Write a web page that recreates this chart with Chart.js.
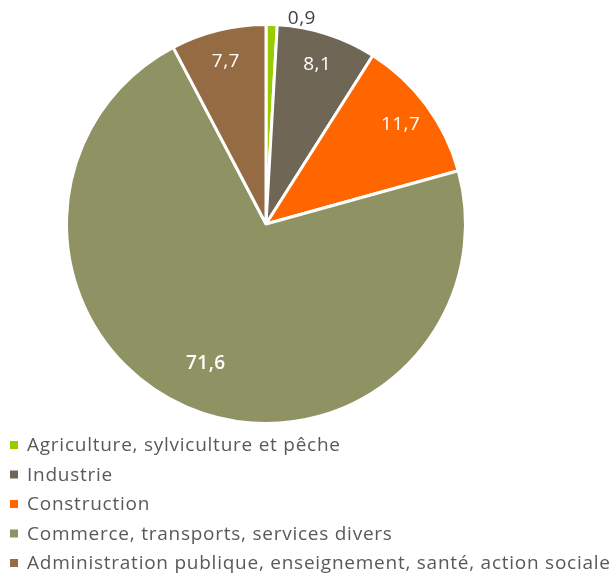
<!DOCTYPE html>
<html>
<head>
<meta charset="utf-8">
<script src="https://cdn.jsdelivr.net/npm/chart.js@4.4.1/dist/chart.umd.min.js"></script>
<style>
html,body{margin:0;padding:0;background:#fff;}
#wrap{width:612px;height:573px;position:relative;}
</style>
</head>
<body>
<div id="wrap"><canvas id="c" width="612" height="573"></canvas></div>
<script>
const categories = [
  "Agriculture, sylviculture et pêche",
  "Industrie",
  "Construction",
  "Commerce, transports, services divers",
  "Administration publique, enseignement, santé, action sociale"
];
const values = [0.9, 8.1, 11.7, 71.6, 7.7];
const colors = ["#99CC00", "#6F6656", "#FF6600", "#8F9263", "#956B43"];

const FONT = "'Open Sans', sans-serif";
const total = values.reduce((a,b)=>a+b,0);
const fmt = v => v.toFixed(1).replace('.', ',');

const sliceLabels = {
  id: 'sliceLabels',
  afterDatasetsDraw(chart) {
    const ctx = chart.ctx;
    const meta = chart.getDatasetMeta(0);
    ctx.save();
    ctx.textBaseline = 'middle';
    ctx.letterSpacing = '0.5px';
    meta.data.forEach((arc, i) => {
      const p = arc.getProps(['x','y','startAngle','endAngle','outerRadius'], true);
      const mid = (p.startAngle + p.endAngle) / 2;
      const share = values[i] / total;
      const txt = fmt(values[i]);
      if (share < 0.03) {
        const r = p.outerRadius + 6;
        const px = p.x + Math.cos(mid) * r + 16;
        const py = p.y + Math.sin(mid) * r;
        ctx.fillStyle = '#404040';
        ctx.font = '19px ' + FONT;
        ctx.textAlign = 'left';
        ctx.fillText(txt, px, py);
      } else {
        const f = share > 0.5 ? 0.76 : 0.84;
        const px = p.x + Math.cos(mid) * p.outerRadius * f;
        const py = p.y + Math.sin(mid) * p.outerRadius * f;
        ctx.fillStyle = '#FFFFFF';
        ctx.font = (share > 0.5 ? '600 ' : '') + '19px ' + FONT;
        ctx.textAlign = 'center';
        ctx.fillText(txt, px, py);
      }
    });
    ctx.restore();
  }
};

const listLegend = {
  id: 'listLegend',
  afterDraw(chart) {
    const ctx = chart.ctx;
    const ds = chart.data.datasets[0];
    ctx.save();
    ctx.font = '19px ' + FONT;
    ctx.letterSpacing = '0.75px';
    ctx.textBaseline = 'middle';
    ctx.textAlign = 'left';
    chart.data.labels.forEach((lab, i) => {
      const y = 445 + i * 29.5;
      ctx.fillStyle = ds.backgroundColor[i];
      ctx.fillRect(10, y - 4, 8, 8);
      ctx.fillStyle = '#595959';
      ctx.fillText(lab, 27, y + 1);
    });
    ctx.restore();
  }
};

new Chart(document.getElementById('c'), {
  type: 'pie',
  data: {
    labels: categories,
    datasets: [{
      data: values,
      backgroundColor: colors,
      borderColor: '#FFFFFF',
      borderWidth: 3
    }]
  },
  options: {
    responsive: false,
    animation: false,
    layout: { padding: { top: 23, left: 0, right: 80, bottom: 148 } },
    plugins: {
      legend: { display: false },
      tooltip: { enabled: false }
    }
  },
  plugins: [sliceLabels, listLegend]
});
</script>
</body>
</html>
